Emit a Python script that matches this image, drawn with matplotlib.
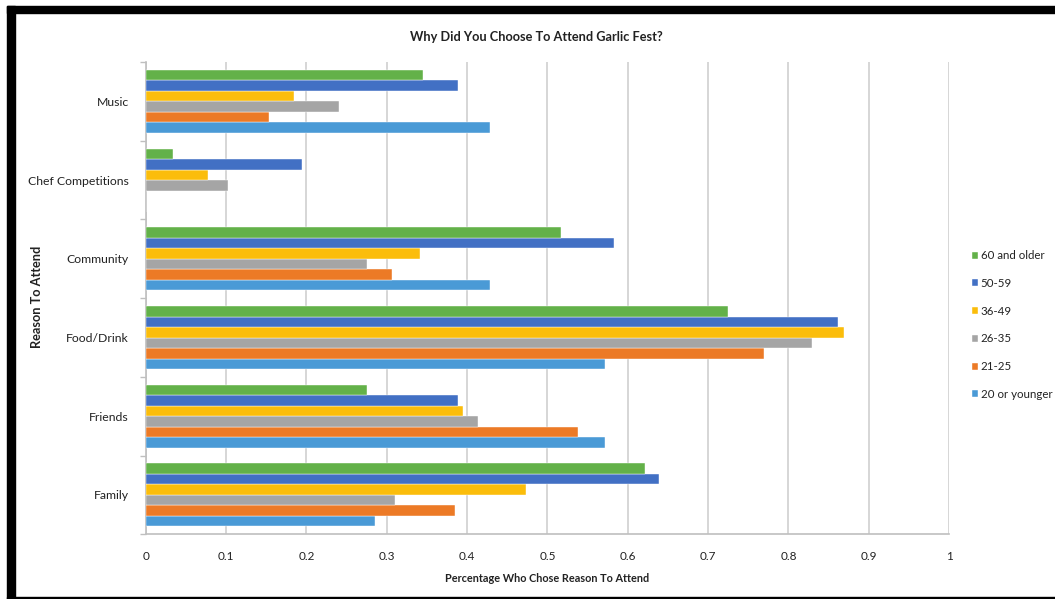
import numpy as np
import matplotlib
matplotlib.use('Agg')
import matplotlib.pyplot as plt
from matplotlib.patches import Rectangle

reasons = ['Family', 'Friends', 'Food/Drink', 'Community', 'Chef Competitions', 'Music']
groups = ['20 or younger', '21-25', '26-35', '36-49', '50-59', '60 and older']
colors = ['#4A9AD6', '#EC7A26', '#A5A5A5', '#FBBD0B', '#4270C4', '#63B149']

# share of respondents per reason, one list per age group (order follows reasons)
age_20_under = [0.285, 0.572, 0.572, 0.429, 0.0, 0.429]
age_21_25 = [0.385, 0.538, 0.770, 0.307, 0.0, 0.153]
age_26_35 = [0.310, 0.414, 0.829, 0.275, 0.103, 0.241]
age_36_49 = [0.473, 0.395, 0.869, 0.342, 0.078, 0.184]
age_50_59 = [0.639, 0.389, 0.862, 0.583, 0.194, 0.389]
age_60_over = [0.621, 0.275, 0.725, 0.517, 0.034, 0.345]
series = [age_20_under, age_21_25, age_26_35, age_36_49, age_50_59, age_60_over]

plt.rcParams['font.family'] = ['Lato', 'DejaVu Sans']

fig = plt.figure(figsize=(10.55, 5.99), dpi=100)
ax = fig.add_axes([0.1381, 0.108, 0.7616, 0.7885])

y = np.arange(len(reasons))
h = 0.8 / len(series)
for i, (vals, name, c) in enumerate(zip(series, groups, colors)):
    ax.barh(y - 0.4 + h * (i + 0.5), vals, height=h, color=c, label=name,
            edgecolor='white', linewidth=0.3, zorder=3)

ax.set_xlim(0, 1)
ax.set_ylim(-0.5, len(reasons) - 0.5)
ax.set_xticks(np.arange(0, 1.01, 0.1))
ax.set_xticklabels(['0', '0.1', '0.2', '0.3', '0.4', '0.5', '0.6', '0.7', '0.8', '0.9', '1'])
ax.set_yticks(y)
ax.set_yticklabels(reasons)
ax.set_yticks(np.arange(-0.5, len(reasons), 1), minor=True)
ax.tick_params(axis='y', which='major', length=0, pad=12, labelsize=8.8, labelcolor='#222222')
ax.tick_params(axis='y', which='minor', length=4, color='#BFBFBF', width=1)
ax.tick_params(axis='x', length=0, pad=12, labelsize=8.5, labelcolor='#222222')
ax.grid(axis='x', color='#D0D0D0', linewidth=1.2, zorder=0)
for s in ['top', 'right']:
    ax.spines[s].set_visible(False)
for s in ['left', 'bottom']:
    ax.spines[s].set_color('#BFBFBF')
    ax.spines[s].set_linewidth(1.2)

ax.set_xlabel('Percentage Who Chose Reason To Attend', fontsize=7.8, fontweight='bold',
              color='#222222', labelpad=8)
ax.set_ylabel('Reason To Attend', fontsize=9.2, fontweight='bold', color='#222222')
ax.yaxis.set_label_coords(-0.128, 0.502)
fig.text(0.508, 0.938, 'Why Did You Choose To Attend Garlic Fest?', ha='center', va='center',
         fontsize=9.2, fontweight='bold', color='#222222')

handles, labels = ax.get_legend_handles_labels()
ax.legend(handles[::-1], labels[::-1], loc='center left', bbox_to_anchor=(1.015, 0.443),
          frameon=False, fontsize=8.3, handlelength=0.55, handleheight=0.55,
          handletextpad=0.25, labelspacing=1.45, labelcolor='#222222')

# black frame on the left, top and bottom edges
fig.add_artist(Rectangle((7 / 1055, 0), 8 / 1055, 593 / 599, transform=fig.transFigure,
                         color='black', zorder=10))
fig.add_artist(Rectangle((7 / 1055, 586 / 599), 1, 7 / 599, transform=fig.transFigure,
                         color='black', zorder=10))
fig.add_artist(Rectangle((7 / 1055, 0), 1, 2 / 599, transform=fig.transFigure,
                         color='black', zorder=10))

fig.savefig('out.png', dpi=100)
